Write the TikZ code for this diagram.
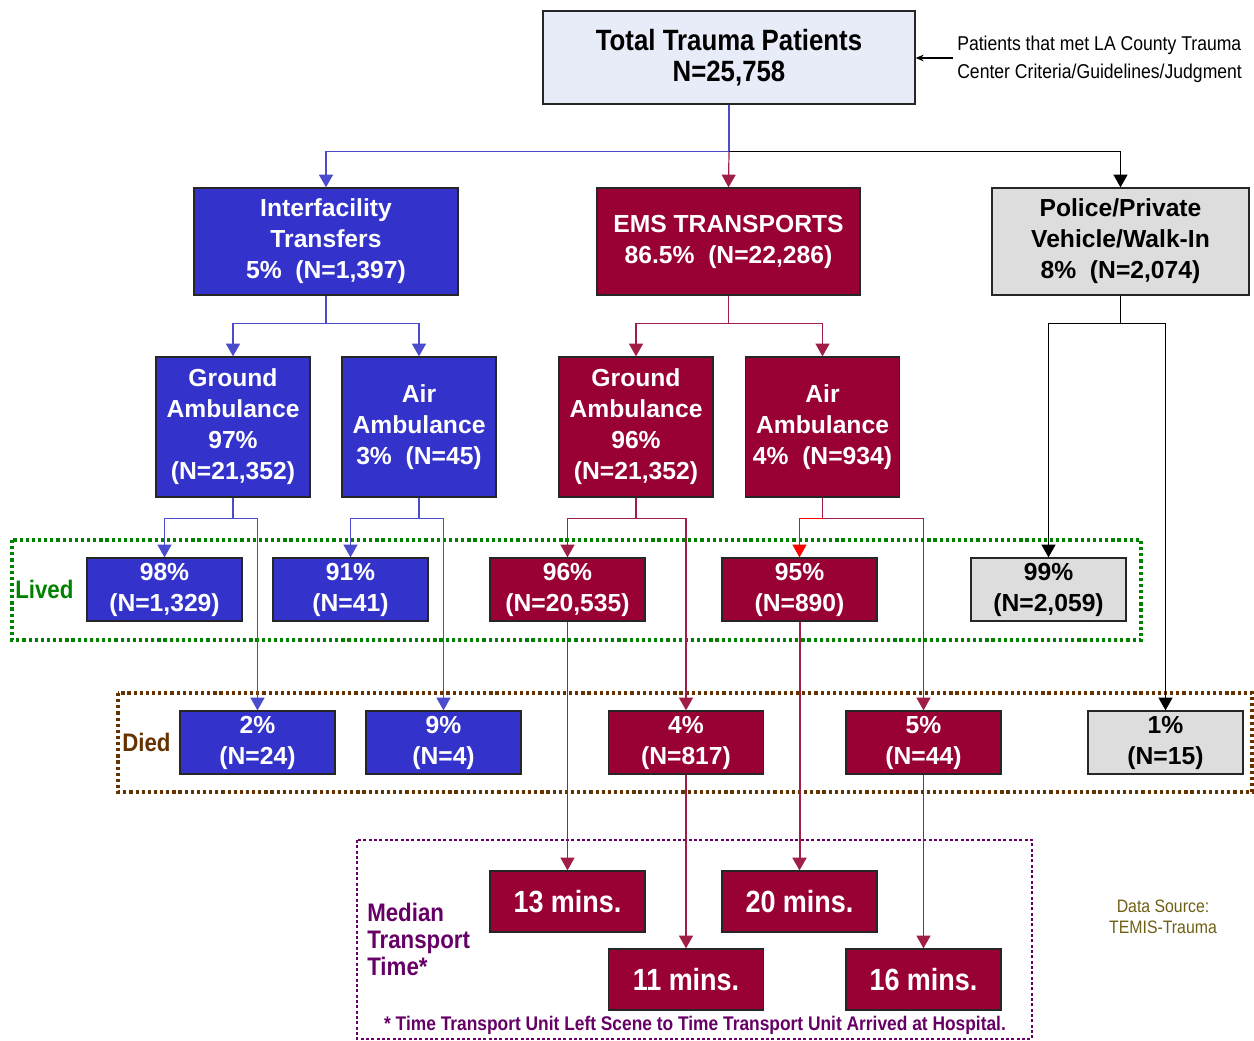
\documentclass[tikz,border=0pt]{standalone}
\usepackage{fontspec}
\setmainfont{Liberation Sans}
\newfontfamily\narrowfont[FakeStretch=0.88]{Liberation Sans}
\usetikzlibrary{arrows.meta}
\definecolor{blueF}{RGB}{51,51,204}
\definecolor{redF}{RGB}{153,0,51}
\definecolor{grayF}{RGB}{221,221,221}
\definecolor{totalF}{RGB}{232,236,248}
\definecolor{blueL}{RGB}{75,75,205}
\definecolor{redL}{RGB}{160,30,70}
\definecolor{livedC}{RGB}{0,130,0}
\definecolor{diedC}{RGB}{102,51,0}
\definecolor{medC}{RGB}{102,0,102}
\definecolor{srcC}{RGB}{110,95,20}
\newcommand\boxfont{\fontsize{18.5}{23.25}\selectfont\bfseries}
\begin{document}
\begin{tikzpicture}[x=0.75pt,y=-0.75pt,
  box/.style={draw=black!85, line width=1pt, align=center, font=\boxfont, inner sep=0pt},
  bluebox/.style={box, fill=blueF, text=white},
  redbox/.style={box, fill=redF, text=white},
  graybox/.style={box, fill=grayF, text=black},
  bigbox/.style={minimum width=115.5pt, minimum height=105pt},
  smallbox/.style={minimum width=116.25pt, minimum height=47.25pt},
  timebox/.style={redbox, minimum width=116.25pt, minimum height=45.75pt, font=\narrowfont\fontsize{23}{26}\selectfont\bfseries},
  arr/.style={-{Triangle[width=10.5pt,length=9.5pt]}},
  bl/.style={draw=blueL, line width=0.9pt},
  rl/.style={draw=redL, line width=0.9pt},
  kl/.style={draw=black, line width=0.9pt},
  region/.style={line width=2.8pt, dash pattern=on 2.4pt off 2.2pt},
  lbl/.style={font=\narrowfont\fontsize{19}{20}\selectfont\bfseries, anchor=west, inner sep=0pt}
]
\useasboundingbox (0,0) rectangle (1254,1041);

% regions
\draw[region, draw=livedC] (12,540) rectangle (1141,640);
\draw[region, draw=diedC] (118,693) rectangle (1252,792);
\draw[region, draw=medC, line width=2.2pt, dash pattern=on 2.2pt off 1.8pt] (357,840) rectangle (1032,1039);

\node[lbl, text=livedC] (lived) at (15,589) {Lived};
\node[lbl, text=diedC] (died) at (122,742) {Died};
\node[lbl, text=medC, anchor=north west, align=left, font=\narrowfont\fontsize{19}{20.25}\selectfont\bfseries] (median) at (367,903) {Median\\Transport\\Time*};
\node[text=medC, font=\narrowfont\fontsize{14.8}{16}\selectfont\bfseries, inner sep=0pt] (foot) at (695,1025) {* Time Transport Unit Left Scene to Time Transport Unit Arrived at Hospital.};
\node[text=srcC, align=center, font=\narrowfont\fontsize{13.5}{15.75}\selectfont, inner sep=0pt] (src) at (1163,917) {Data Source:\\TEMIS-Trauma};

% top
\node[box, fill=totalF, text=black, minimum width=279pt, minimum height=69.75pt, font=\narrowfont\fontsize{22}{23.25}\selectfont\bfseries] (total) at (729,57.5) {Total Trauma Patients\\N=25,758};
\node[align=left, anchor=west, inner sep=0pt, font=\narrowfont\fontsize{15}{21}\selectfont] (note) at (957,59) {Patients that met LA County Trauma\\Center Criteria/Guidelines/Judgment};
\coordinate (noteA) at (953,58);
\draw[kl, line width=0.8pt, -{Stealth[length=6pt,width=5pt]}] (noteA) -- (total.east |- noteA);

% level 1
\node[bluebox, minimum width=198pt, minimum height=80.25pt] (inter) at (326,241.5) {Interfacility\\Transfers\\5\%\ \ (N=1,397)};
\node[redbox, minimum width=197.25pt, minimum height=80.25pt] (ems) at (728.5,241.5) {EMS TRANSPORTS\\86.5\%\ \ (N=22,286)};
\node[graybox, minimum width=192.75pt, minimum height=80.25pt] (police) at (1120.5,241.5) {Police/Private\\Vehicle/Walk-In\\8\%\ \ (N=2,074)};

% level 2
\node[bluebox, bigbox] (gb) at (233,427) {Ground\\Ambulance\\97\%\\(N=21,352)};
\node[bluebox, bigbox] (ab) at (419,427) {Air\\Ambulance\\3\%\ \ (N=45)};
\node[redbox, bigbox] (gr) at (636,427) {Ground\\Ambulance\\96\%\\(N=21,352)};
\node[redbox, bigbox] (ar) at (822.5,427) {Air\\Ambulance\\4\%\ \ (N=934)};

% lived
\node[bluebox, smallbox] (l1) at (164.5,589.5) {98\%\\(N=1,329)};
\node[bluebox, smallbox] (l2) at (350.5,589.5) {91\%\\(N=41)};
\node[redbox, smallbox] (l3) at (567.5,589.5) {96\%\\(N=20,535)};
\node[redbox, smallbox] (l4) at (799.5,589.5) {95\%\\(N=890)};
\node[graybox, smallbox] (l5) at (1048.5,589.5) {99\%\\(N=2,059)};

% died
\node[bluebox, smallbox] (d1) at (257.5,742.5) {2\%\\(N=24)};
\node[bluebox, smallbox] (d2) at (443.5,742.5) {9\%\\(N=4)};
\node[redbox, smallbox] (d3) at (686,742.5) {4\%\\(N=817)};
\node[redbox, smallbox] (d4) at (923.5,742.5) {5\%\\(N=44)};
\node[graybox, smallbox] (d5) at (1165.5,742.5) {1\%\\(N=15)};

% times
\node[timebox] (t13) at (567.5,901.5) {13 mins.};
\node[timebox] (t20) at (799.5,901.5) {20 mins.};
\node[timebox] (t11) at (686,979.5) {11 mins.};
\node[timebox] (t16) at (923.5,979.5) {16 mins.};

% connectors from total
\draw[bl] (total.south) -- ++(0,47) coordinate (split);
\draw[bl, arr] (split) -| (inter.north);
\draw[kl, arr] (split) -| (police.north);
\draw[rl, arr] (split) -- (ems.north);

% level 1 -> 2
\draw[bl, arr] (inter.south) -- ++(0,28) -| (gb.north);
\draw[bl, arr] (inter.south) -- ++(0,28) -| (ab.north);
\draw[rl, arr] (ems.south) -- ++(0,28) -| (gr.north);
\draw[rl, arr] (ems.south) -- ++(0,28) -| (ar.north);
\draw[kl, arr] (police.south) -- ++(0,28) -| (l5.north);
\draw[kl, arr] (police.south) -- ++(0,28) -| (d5.north);

% level 2 -> outcomes
\draw[bl, arr] (gb.south) -- ++(0,21) -| (l1.north);
\draw[bl, arr] (gb.south) -- ++(0,21) -| (d1.north);
\draw[bl, arr] (ab.south) -- ++(0,21) -| (l2.north);
\draw[bl, arr] (ab.south) -- ++(0,21) -| (d2.north);
\draw[rl, arr] (gr.south) -- ++(0,21) -| (l3.north);
\draw[rl, arr] (gr.south) -- ++(0,21) -| (d3.north);
\draw[rl, arr] (ar.south) -- ++(0,21) -| (d4.north);
\draw[rl] (ar.south) -- ++(0,21) coordinate (arsplit);
\draw[draw=red, line width=0.9pt, arr] (arsplit) -| (l4.north);

% outcomes -> times
\draw[rl, arr] (l3.south) -- (t13.north);
\draw[rl, arr, line width=1.5pt] (l4.south) -- (t20.north);
\draw[rl, arr] (d3.south) -- (t11.north);
\draw[rl, arr] (d4.south) -- (t16.north);
\end{tikzpicture}
\end{document}
